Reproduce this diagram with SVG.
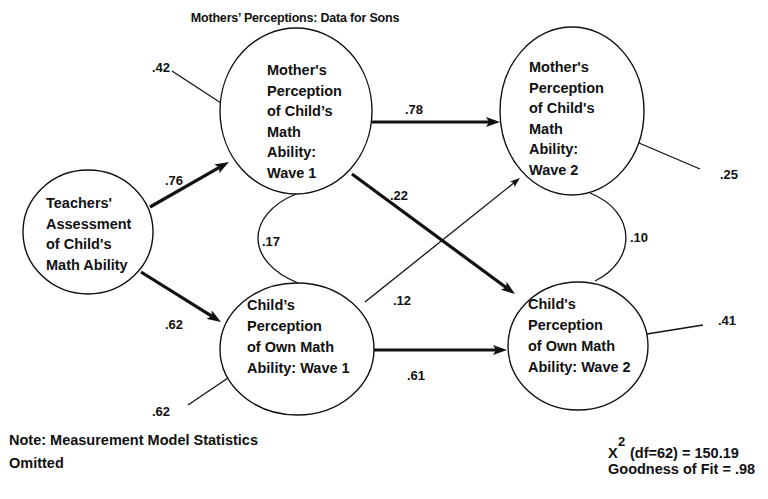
<svg xmlns="http://www.w3.org/2000/svg" width="768" height="499" viewBox="0 0 768 499">
<style>
text{font-family:"Liberation Sans",Arial,sans-serif;font-weight:bold;fill:#111}
.t{font-size:12.5px;letter-spacing:-0.2px}
.n{font-size:14.5px}
.l{font-size:13px}
.b{font-size:14.5px}
ellipse{fill:none;stroke:#111;stroke-width:1.4}
.thick{stroke:#111;stroke-width:3.2;fill:none}
.thin{stroke:#111;stroke-width:1.3;fill:none}
</style>
<defs>
<marker id="ah" viewBox="0 0 14 10" refX="3" refY="5" markerWidth="14" markerHeight="10" orient="auto" markerUnits="userSpaceOnUse"><path d="M0,0 L14,5 L0,10 L3,5 Z" fill="#111"/></marker>
<marker id="ahs" viewBox="0 0 10 7" refX="2" refY="3.5" markerWidth="10" markerHeight="7" orient="auto" markerUnits="userSpaceOnUse"><path d="M0,0 L10,3.5 L0,7 L2,3.5 Z" fill="#111"/></marker>
</defs>
<rect width="768" height="499" fill="#fff"/>
<text class="t" x="295" y="22" text-anchor="middle">Mothers’ Perceptions: Data for Sons</text>

<g id="teachers">
<ellipse cx="88" cy="232" rx="65" ry="62"/>
<text class="n" x="46" y="208">Teachers'</text>
<text class="n" x="46" y="228.5">Assessment</text>
<text class="n" x="46" y="249">of Child's</text>
<text class="n" x="46" y="269.5">Math Ability</text>
</g>
<g id="mother1">
<ellipse cx="296" cy="111" rx="76" ry="83"/>
<text class="n" x="267" y="75">Mother's</text>
<text class="n" x="267" y="95.5">Perception</text>
<text class="n" x="267" y="116">of Child’s</text>
<text class="n" x="267" y="136.5">Math</text>
<text class="n" x="267" y="157">Ability:</text>
<text class="n" x="267" y="177.5">Wave 1</text>
</g>
<g id="mother2">
<ellipse cx="572" cy="111" rx="72" ry="84"/>
<text class="n" x="529" y="72">Mother's</text>
<text class="n" x="529" y="92.5">Perception</text>
<text class="n" x="529" y="113">of Child's</text>
<text class="n" x="529" y="133.5">Math</text>
<text class="n" x="529" y="154">Ability:</text>
<text class="n" x="529" y="174.5">Wave 2</text>
</g>
<g id="child1">
<ellipse cx="297" cy="349" rx="77" ry="66"/>
<text class="n" x="247" y="310">Child’s</text>
<text class="n" x="247" y="331">Perception</text>
<text class="n" x="247" y="352">of Own Math</text>
<text class="n" x="247" y="373">Ability: Wave 1</text>
</g>
<g id="child2">
<ellipse cx="578" cy="346" rx="70" ry="64"/>
<text class="n" x="528" y="309">Child's</text>
<text class="n" x="528" y="330">Perception</text>
<text class="n" x="528" y="351">of Own Math</text>
<text class="n" x="528" y="372">Ability: Wave 2</text>
</g>

<g id="connectors">
<line class="thick" x1="150" y1="207" x2="219.4" y2="167.4" marker-end="url(#ah)"/>
<line class="thick" x1="141" y1="272" x2="211.7" y2="316.2" marker-end="url(#ah)"/>
<line class="thick" x1="372" y1="122" x2="489" y2="122" marker-end="url(#ah)"/>
<line class="thick" x1="352" y1="174" x2="506.1" y2="287.5" marker-end="url(#ah)"/>
<line class="thick" x1="374" y1="350" x2="496" y2="350" marker-end="url(#ah)"/>
<line class="thin" x1="365" y1="302" x2="513.8" y2="183" marker-end="url(#ahs)"/>
<path class="thin" d="M296,194 C245,215 245,262 298,283"/>
<path class="thin" d="M590,193 C637,212 637,260 595,281"/>
<line class="thin" x1="172" y1="71" x2="221" y2="103"/>
<line class="thin" x1="639" y1="143" x2="700" y2="169"/>
<line class="thin" x1="188" y1="405" x2="228" y2="378"/>
<line class="thin" x1="647" y1="334" x2="703" y2="325"/>
</g>

<g id="labels">
<text class="l" x="152" y="72">.42</text>
<text class="l" x="165" y="185">.76</text>
<text class="l" x="405" y="114">.78</text>
<text class="l" x="390" y="200">.22</text>
<text class="l" x="262" y="246">.17</text>
<text class="l" x="630" y="242">.10</text>
<text class="l" x="720" y="179">.25</text>
<text class="l" x="393" y="305">.12</text>
<text class="l" x="165" y="329">.62</text>
<text class="l" x="407" y="380">.61</text>
<text class="l" x="152" y="416">.62</text>
<text class="l" x="718" y="325">.41</text>
</g>

<text class="b" x="9" y="445">Note: Measurement Model Statistics</text>
<text class="b" x="9" y="468">Omitted</text>
<text class="b" x="608" y="458">X</text>
<text class="l" x="618" y="446">2</text>
<text class="b" x="630" y="458">(df=62) = 150.19</text>
<text class="b" x="608" y="474">Goodness of Fit = .98</text>
</svg>
